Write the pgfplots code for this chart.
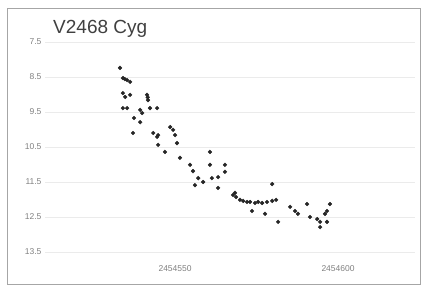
\documentclass[border=0pt]{standalone}
\usepackage{pgfplots}
\pgfplotsset{compat=1.18}
\usepackage{pgfplotstable}
\usepackage{fontspec}
\setmainfont{Liberation Sans}
% x = JD - 2454500, y = magnitude
\pgfplotstableread{
x y
33.1 8.24
34.0 8.53
34.6 8.56
35.3 8.59
36.2 8.64
34.0 8.96
34.7 9.07
36.2 9.01
41.4 9.01
41.6 9.08
41.7 9.16
34.0 9.39
35.3 9.39
39.3 9.44
39.9 9.53
42.3 9.39
44.5 9.39
37.4 9.67
39.3 9.79
37.1 10.10
43.3 10.10
44.5 10.21
48.5 9.93
49.4 10.01
50.0 10.16
44.8 10.16
50.6 10.39
44.8 10.44
46.9 10.64
51.5 10.81
54.6 11.01
55.5 11.19
60.7 10.64
60.7 11.01
65.3 11.01
65.3 11.21
57.1 11.39
58.6 11.50
56.1 11.59
61.3 11.39
63.2 11.36
63.2 11.67
68.4 11.81
67.8 11.87
68.7 11.93
69.9 12.01
70.9 12.04
72.1 12.07
73.0 12.07
74.5 12.10
75.5 12.07
76.7 12.10
78.2 12.07
79.8 12.04
81.0 12.01
73.6 12.33
77.6 12.41
79.8 11.56
81.6 12.64
85.3 12.21
86.8 12.33
87.7 12.41
90.5 12.13
91.4 12.50
93.6 12.56
94.5 12.64
96.0 12.41
96.6 12.33
97.5 12.13
96.6 12.64
94.5 12.79
}\datatable
\begin{document}
\begin{tikzpicture}[x=1pt,y=1pt]
\useasboundingbox (0,0) rectangle (421,285);
\draw[black!35, line width=1pt] (7,1) rectangle (420,277);
\begin{axis}[
  at={(45pt,23pt)}, anchor=south west,
  width=370pt, height=227pt, scale only axis,
  xmin=10.1, xmax=123.6,
  ymin=7.3, ymax=13.786, y dir=reverse,
  axis line style={draw=none},
  major tick length=0pt,
  xtick={50,100}, xticklabels={2454550,2454600},
  ytick={7.5,8.5,9.5,10.5,11.5,12.5,13.5},
  yticklabels={7.5,8.5,9.5,10.5,11.5,12.5,13.5},
  ticklabel style={font=\fontsize{8.5}{10}\selectfont, text=black!50},
  ymajorgrids, grid style={black!8},
  clip=false,
]
\addplot[only marks, mark=*, mark size=1.9pt, color=black!85] table[x=x,y=y] {\datatable};
\end{axis}
\node[anchor=base west, font=\fontsize{19}{21}\selectfont, text=black!75, inner sep=0pt] at (53,252) {V2468 Cyg};
\end{tikzpicture}
\end{document}
